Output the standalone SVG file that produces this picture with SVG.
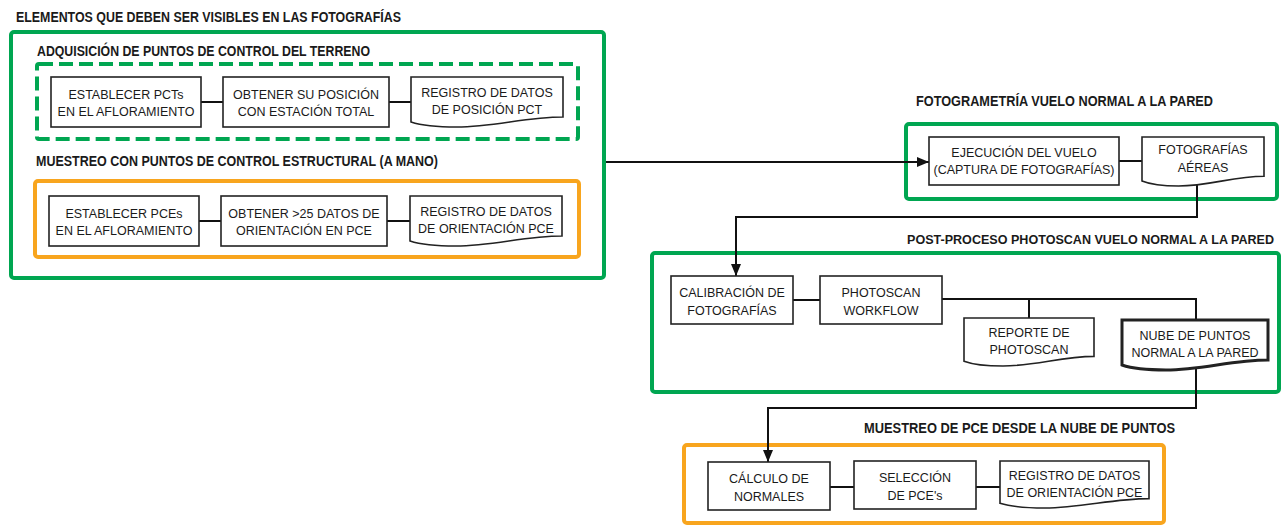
<svg xmlns="http://www.w3.org/2000/svg" width="1287" height="527" viewBox="0 0 1287 527">
  <style>
    .title { font-family: "Liberation Sans", Arial, sans-serif; font-weight: bold; font-size: 14px; fill: #1a1a1a; }
    .lbl { font-family: "Liberation Sans", Arial, sans-serif; font-size: 12.5px; fill: #1a1a1a; text-anchor: middle; }
    .grp-green { fill: none; stroke: #00A651; stroke-width: 4; }
    .grp-dash { fill: none; stroke: #00A651; stroke-width: 4; stroke-dasharray: 14 6; }
    .grp-orange { fill: none; stroke: #F8A51E; stroke-width: 4; }
    .box { fill: #fff; stroke: #222; stroke-width: 1.6; }
    .box-bold { fill: #fff; stroke: #222; stroke-width: 3; }
    .link { fill: none; stroke: #111; stroke-width: 2; }
  </style>
  <defs>
    <marker id="arrow" markerUnits="userSpaceOnUse" markerWidth="12" markerHeight="12" viewBox="0 0 12 12" refX="12" refY="6" orient="auto">
      <path d="M0,1 L12,6 L0,11 Z" fill="#111"/>
    </marker>
  </defs>
  <rect width="1287" height="527" fill="#fff"/>

  <!-- group frames -->
  <g id="frames">
    <rect class="grp-green" x="11" y="32" width="593" height="246" rx="3"/>
    <rect class="grp-dash" x="37" y="64" width="541" height="75" rx="2"/>
    <rect class="grp-orange" x="35" y="181" width="544" height="76" rx="3"/>
    <rect class="grp-green" x="906" y="124" width="371" height="75" rx="3"/>
    <rect class="grp-green" x="652" y="253" width="627" height="139" rx="3"/>
    <rect class="grp-orange" x="684" y="445" width="480" height="78" rx="3"/>
  </g>

  <!-- group titles -->
  <g id="titles">
    <text class="title" x="16" y="22" textLength="385" lengthAdjust="spacingAndGlyphs">ELEMENTOS QUE DEBEN SER VISIBLES EN LAS FOTOGRAFÍAS</text>
    <text class="title" x="37" y="56" textLength="333" lengthAdjust="spacingAndGlyphs">ADQUISICIÓN DE PUNTOS DE CONTROL DEL TERRENO</text>
    <text class="title" x="36" y="166" textLength="402" lengthAdjust="spacingAndGlyphs">MUESTREO CON PUNTOS DE CONTROL ESTRUCTURAL (A MANO)</text>
    <text class="title" x="916" y="106" textLength="297" lengthAdjust="spacingAndGlyphs">FOTOGRAMETRÍA VUELO NORMAL A LA PARED</text>
    <text class="title" x="907" y="244" style="font-size:12.5px" textLength="367" lengthAdjust="spacingAndGlyphs">POST-PROCESO PHOTOSCAN VUELO NORMAL A LA PARED</text>
    <text class="title" x="864" y="433" textLength="311" lengthAdjust="spacingAndGlyphs">MUESTREO DE PCE DESDE LA NUBE DE PUNTOS</text>
  </g>

  <!-- connectors -->
  <g id="connectors">
    <path class="link" d="M201,102 H223 M389,102 H411"/>
    <path class="link" d="M199,221 H221 M387,221 H410"/>
    <path class="link" d="M606,162 H929" marker-end="url(#arrow)"/>
    <path class="link" d="M1119,161 H1142"/>
    <path class="link" d="M1197,184 V217 H736 V276" marker-end="url(#arrow)"/>
    <path class="link" d="M793,300 H820"/>
    <path class="link" d="M942,299 H1196 V320 M1029,299 V318"/>
    <path class="link" d="M1196,368 V408 H768 V462" marker-end="url(#arrow)"/>
    <path class="link" d="M830,487 H854 M976,487 H1000"/>
  </g>

  <!-- row 1: ground control points -->
  <g id="establecer-pct">
    <rect class="box" x="51" y="77" width="150" height="50"/>
    <text class="lbl" x="126" y="99">ESTABLECER PCTs</text>
    <text class="lbl" x="126" y="116">EN EL AFLORAMIENTO</text>
  </g>
  <g id="obtener-posicion">
    <rect class="box" x="223" y="77" width="166" height="50"/>
    <text class="lbl" x="306" y="99">OBTENER SU POSICIÓN</text>
    <text class="lbl" x="306" y="116">CON ESTACIÓN TOTAL</text>
  </g>
  <g id="registro-pct">
    <path class="box" d="M411,77 H563 V117 C525,117 494.6,127 456.6,127 C433.8,127 418.6,124.5 411,122 Z"/>
    <text class="lbl" x="487" y="97">REGISTRO DE DATOS</text>
    <text class="lbl" x="487" y="114">DE POSICIÓN PCT</text>
  </g>

  <!-- row 2: structural control points by hand -->
  <g id="establecer-pce">
    <rect class="box" x="49" y="196" width="150" height="50"/>
    <text class="lbl" x="124" y="218">ESTABLECER PCEs</text>
    <text class="lbl" x="124" y="235">EN EL AFLORAMIENTO</text>
  </g>
  <g id="obtener-orientacion">
    <rect class="box" x="221" y="196" width="166" height="50"/>
    <text class="lbl" x="304" y="218">OBTENER &gt;25 DATOS DE</text>
    <text class="lbl" x="304" y="235">ORIENTACIÓN EN PCE</text>
  </g>
  <g id="registro-pce-mano">
    <path class="box" d="M410,196 H562 V236 C524,236 493.6,246 455.6,246 C432.8,246 417.6,243.5 410,241 Z"/>
    <text class="lbl" x="486" y="216">REGISTRO DE DATOS</text>
    <text class="lbl" x="486" y="233">DE ORIENTACIÓN PCE</text>
  </g>

  <!-- flight -->
  <g id="ejecucion-vuelo">
    <rect class="box" x="929" y="137" width="190" height="48"/>
    <text class="lbl" x="1024" y="157">EJECUCIÓN DEL VUELO</text>
    <text class="lbl" x="1024" y="174">(CAPTURA DE FOTOGRAFÍAS)</text>
  </g>
  <g id="fotografias-aereas">
    <path class="box" d="M1142,137 H1264 V176.2 C1233.5,176.2 1209.1,186 1178.6,186 C1160.3,186 1148.1,183.5 1142,181 Z"/>
    <text class="lbl" x="1203" y="154">FOTOGRAFÍAS</text>
    <text class="lbl" x="1203" y="172">AÉREAS</text>
  </g>

  <!-- photoscan post-processing -->
  <g id="calibracion">
    <rect class="box" x="671" y="276" width="122" height="48"/>
    <text class="lbl" x="732" y="297">CALIBRACIÓN DE</text>
    <text class="lbl" x="732" y="315">FOTOGRAFÍAS</text>
  </g>
  <g id="photoscan-workflow">
    <rect class="box" x="820" y="276" width="122" height="48"/>
    <text class="lbl" x="881" y="297">PHOTOSCAN</text>
    <text class="lbl" x="881" y="315">WORKFLOW</text>
  </g>
  <g id="reporte-photoscan">
    <path class="box" d="M964,318 H1094 V356.4 C1061.5,356.4 1035.5,366 1003,366 C983.5,366 970.5,363.6 964,361.2 Z"/>
    <text class="lbl" x="1029" y="337">REPORTE DE</text>
    <text class="lbl" x="1029" y="354">PHOTOSCAN</text>
  </g>
  <g id="nube-puntos">
    <path class="box-bold" d="M1122,320 H1268 V360 C1231.5,360 1202.3,370 1165.8,370 C1143.9,370 1129.3,367.5 1122,365 Z"/>
    <text class="lbl" x="1195" y="340">NUBE DE PUNTOS</text>
    <text class="lbl" x="1195" y="357">NORMAL A LA PARED</text>
  </g>

  <!-- sampling from point cloud -->
  <g id="calculo-normales">
    <rect class="box" x="708" y="462" width="122" height="48"/>
    <text class="lbl" x="769" y="483">CÁLCULO DE</text>
    <text class="lbl" x="769" y="501">NORMALES</text>
  </g>
  <g id="seleccion-pce">
    <rect class="box" x="854" y="461" width="122" height="48"/>
    <text class="lbl" x="915" y="482">SELECCIÓN</text>
    <text class="lbl" x="915" y="500">DE PCE's</text>
  </g>
  <g id="registro-pce-nube">
    <path class="box" d="M1000,461 H1149 V498.6 C1111.8,498.6 1082,508 1044.7,508 C1022.4,508 1007.5,505.6 1000,503.3 Z"/>
    <text class="lbl" x="1074.5" y="480">REGISTRO DE DATOS</text>
    <text class="lbl" x="1074.5" y="497">DE ORIENTACIÓN PCE</text>
  </g>
</svg>
